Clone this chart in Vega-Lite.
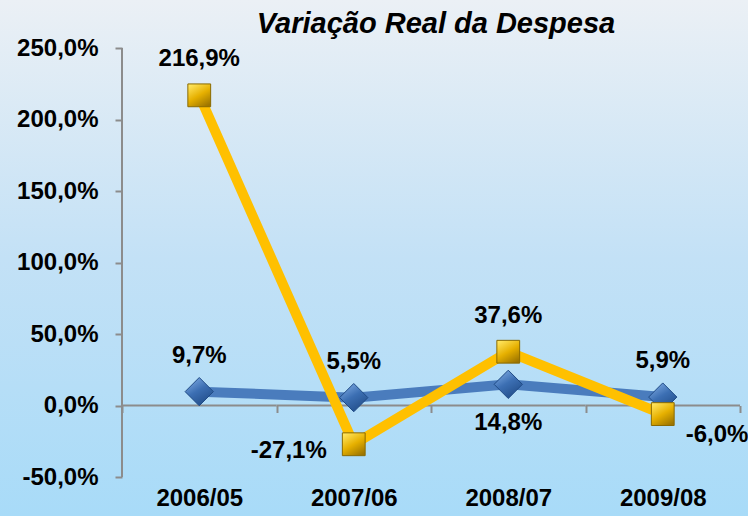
{
  "$schema": "https://vega.github.io/schema/vega-lite/v6.json",
  "width": 748,
  "height": 516,
  "autosize": "none",
  "padding": 0,
  "background": "#c9e3f5",
  "config": {
    "view": {"stroke": null, "fill": {"gradient": "linear", "x1": 0, "y1": 0, "x2": 0, "y2": 1, "stops": [{"offset": 0, "color": "#ebf0f5"}, {"offset": 0.5, "color": "#c3e1f6"}, {"offset": 1, "color": "#a8dbf8"}]}},
    "locale": {"number": {"decimal": ",", "thousands": ".", "grouping": [3], "currency": ["", " €"], "minus": "-"}},
    "font": "Liberation Sans"
  },
  "title": {"text": "Variação Real da Despesa", "fontSize": 29, "fontStyle": "italic", "fontWeight": "bold", "color": "#000000", "anchor": "middle", "frame": "group", "dx": 62, "offset": -39, "font": "Liberation Sans"},
  "data": {"values": [
    {"ano": "2006/05", "serie": "Série 1", "valor": 0.097},
    {"ano": "2007/06", "serie": "Série 1", "valor": 0.055},
    {"ano": "2008/07", "serie": "Série 1", "valor": 0.148},
    {"ano": "2009/08", "serie": "Série 1", "valor": 0.059},
    {"ano": "2006/05", "serie": "Série 2", "valor": 2.169},
    {"ano": "2007/06", "serie": "Série 2", "valor": -0.271},
    {"ano": "2008/07", "serie": "Série 2", "valor": 0.376},
    {"ano": "2009/08", "serie": "Série 2", "valor": -0.06}
  ]},
  "encoding": {
    "x": {"field": "ano", "type": "nominal", "sort": null,
      "scale": {"type": "band", "paddingInner": 0, "paddingOuter": 0.4207, "align": 0.9385},
      "axis": {"orient": "bottom", "offset": -110.5, "domain": false, "ticks": true, "tickBand": "extent", "tickSize": 7, "tickColor": "#8c8c8c", "tickWidth": 2, "labelPadding": 74, "labelFontSize": 24, "labelFontWeight": "bold", "labelColor": "#000000", "labelAngle": 0, "title": null, "grid": false}},
    "y": {"field": "valor", "type": "quantitative",
      "scale": {"domain": [-0.7727, 2.8357], "nice": false, "zero": false},
      "axis": {"orient": "left", "offset": -122, "domain": false, "values": [-0.5, 0, 0.5, 1, 1.5, 2, 2.5], "format": ".1%", "tickSize": 7, "tickColor": "#8c8c8c", "tickWidth": 2, "labelPadding": 17, "labelFontSize": 24, "labelFontWeight": "bold", "labelColor": "#000000", "title": null, "grid": false}}
  },
  "layer": [
    {
      "transform": [{"filter": "datum.serie == 'Série 1'"}],
      "mark": {"type": "rect", "fill": null, "stroke": "#8c8c8c", "strokeWidth": 2},
      "encoding": {"y": {"datum": 0}, "y2": {"datum": 0}}
    },
    {
      "transform": [{"filter": "datum.serie == 'Série 1' && datum.ano == '2006/05'"}],
      "mark": {"type": "rule", "stroke": "#8c8c8c", "strokeWidth": 2},
      "encoding": {"x": {"field": "ano", "type": "nominal", "bandPosition": 0}, "y": {"datum": 2.5}, "y2": {"datum": -0.5}}
    },
    {
      "mark": {"type": "line", "strokeWidth": 10},
      "encoding": {"color": {"field": "serie", "type": "nominal", "scale": {"domain": ["Série 1", "Série 2"], "range": ["#4a7cbd", "#ffc000"]}, "legend": null}}
    },
    {
      "transform": [{"filter": "datum.serie == 'Série 1'"}],
      "mark": {"type": "point", "shape": "diamond", "size": 800, "filled": true, "opacity": 1, "strokeWidth": 1, "stroke": "#1f4a85",
        "fill": {"gradient": "linear", "x1": 0.2, "y1": 0, "x2": 0.8, "y2": 1, "stops": [{"offset": 0, "color": "#7eaae2"}, {"offset": 0.45, "color": "#3c6fb3"}, {"offset": 1, "color": "#1f4a85"}]}}
    },
    {
      "transform": [{"filter": "datum.serie == 'Série 2'"}],
      "mark": {"type": "point", "shape": "square", "size": 520, "filled": true, "opacity": 1, "strokeWidth": 1, "stroke": "#8a6a00",
        "fill": {"gradient": "linear", "x1": 0.2, "y1": 0, "x2": 0.8, "y2": 1, "stops": [{"offset": 0, "color": "#ffe45c"}, {"offset": 0.5, "color": "#e6b000"}, {"offset": 1, "color": "#9c7400"}]}}
    },
    {
      "transform": [{"filter": "(datum.serie == 'Série 1' && datum.ano != '2008/07') || (datum.serie == 'Série 2' && (datum.ano == '2006/05' || datum.ano == '2008/07'))"}],
      "mark": {"type": "text", "fontSize": 24, "fontWeight": "bold", "color": "#000000", "dy": -36, "baseline": "middle", "align": "center"},
      "encoding": {"text": {"field": "valor", "type": "quantitative", "format": ".1%"}}
    },
    {
      "transform": [{"filter": "datum.serie == 'Série 1' && datum.ano == '2008/07'"}],
      "mark": {"type": "text", "fontSize": 24, "fontWeight": "bold", "color": "#000000", "dy": 39, "baseline": "middle", "align": "center"},
      "encoding": {"text": {"field": "valor", "type": "quantitative", "format": ".1%"}}
    },
    {
      "transform": [{"filter": "datum.serie == 'Série 2' && datum.ano == '2007/06'"}],
      "mark": {"type": "text", "fontSize": 24, "fontWeight": "bold", "color": "#000000", "dx": -27, "dy": 7, "baseline": "middle", "align": "right"},
      "encoding": {"text": {"field": "valor", "type": "quantitative", "format": ".1%"}}
    },
    {
      "transform": [{"filter": "datum.serie == 'Série 2' && datum.ano == '2009/08'"}],
      "mark": {"type": "text", "fontSize": 24, "fontWeight": "bold", "color": "#000000", "dx": 23, "dy": 21, "baseline": "middle", "align": "left"},
      "encoding": {"text": {"field": "valor", "type": "quantitative", "format": ".1%"}}
    }
  ]
}
